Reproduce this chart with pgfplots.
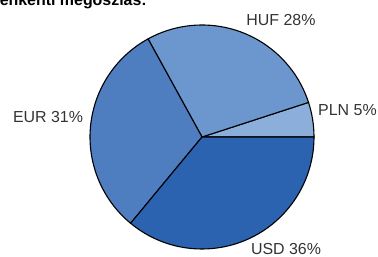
\documentclass[border=0pt]{standalone}
\usepackage{pgfplots}
\pgfplotsset{compat=1.18}
\usepackage{fontspec}
\setmainfont{Liberation Sans}
\definecolor{cPLN}{HTML}{8BAEDB}
\definecolor{cHUF}{HTML}{6C97CE}
\definecolor{cEUR}{HTML}{4E7DC0}
\definecolor{cUSD}{HTML}{2B63B0}
\definecolor{txt}{HTML}{333333}
\tikzset{lab/.style={font=\fontsize{16}{19}\selectfont, text=txt}}
\begin{document}
\begin{tikzpicture}
\useasboundingbox (0,0) rectangle (378bp,257bp);
\begin{axis}[
  at={(0,0)}, anchor=south west,
  x=112bp, y=112bp,
  xmin=-1.8036, xmax=1.5714,
  ymin=-1.0714, ymax=1.2232,
  hide axis, clip=false,
]
% shares in percent: PLN 5, HUF 28, EUR 31, USD 36
\filldraw[fill=cPLN, draw=black, line width=1.1bp] (axis cs:0,0) -- (axis cs:1,0) arc[start angle=0, delta angle={5*3.6}, radius=112bp] -- cycle;
\filldraw[fill=cHUF, draw=black, line width=1.1bp] (axis cs:0,0) -- (axis cs:{cos(18)},{sin(18)}) arc[start angle=18, delta angle={28*3.6}, radius=112bp] -- cycle;
\filldraw[fill=cEUR, draw=black, line width=1.1bp] (axis cs:0,0) -- (axis cs:{cos(118.8)},{sin(118.8)}) arc[start angle=118.8, delta angle={31*3.6}, radius=112bp] -- cycle;
\filldraw[fill=cUSD, draw=black, line width=1.1bp] (axis cs:0,0) -- (axis cs:{cos(230.4)},{sin(230.4)}) arc[start angle=230.4, delta angle={36*3.6}, radius=112bp] -- cycle;
\node[lab] at (axis cs:0.705,1.045) {HUF 28\%};
\node[lab, anchor=west, inner sep=0pt] at (axis cs:1.036,0.241) {PLN 5\%};
\node[lab] at (axis cs:-1.375,0.179) {EUR 31\%};
\node[lab] at (axis cs:0.75,-1.0) {USD 36\%};
\node[anchor=base east, inner sep=0pt, text=black, font=\bfseries\fontsize{16}{19}\selectfont] at (axis cs:-0.491,1.17) {Devizanemenkénti megoszlás:};
\end{axis}
\end{tikzpicture}
\end{document}
